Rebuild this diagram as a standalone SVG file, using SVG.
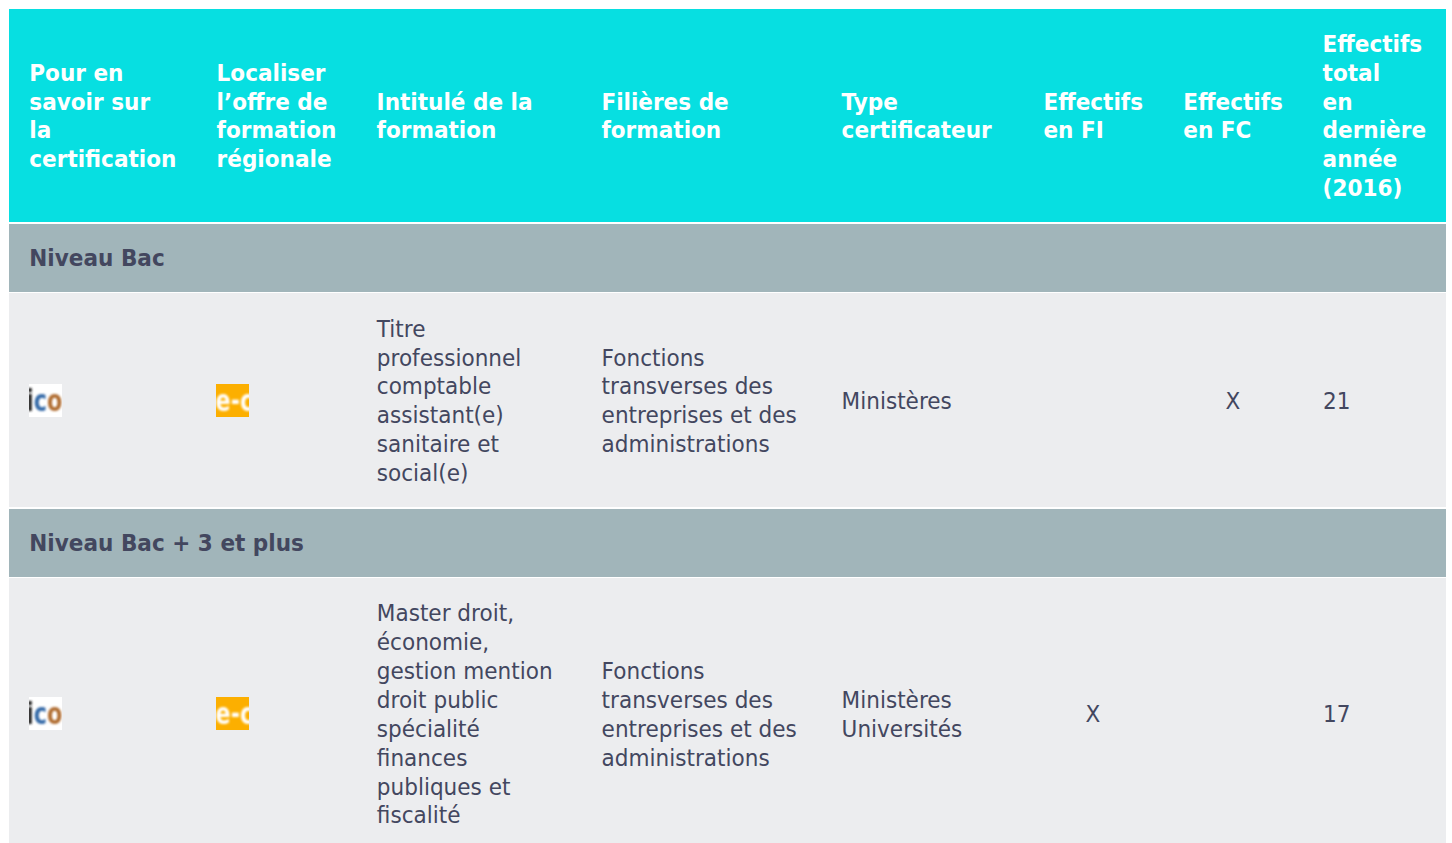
<svg xmlns="http://www.w3.org/2000/svg" width="1452" height="843" viewBox="0 0 1452 843">
<style>
text{font-family:"DejaVu Sans",sans-serif;font-size:23px;fill:#43475f}
.h{font-weight:700;fill:#fff}
.s{font-weight:700}
.ico{font-size:31px;font-weight:700}
</style>
<defs>
<filter id="b" x="-20%" y="-20%" width="140%" height="140%"><feGaussianBlur stdDeviation="1.1"/></filter>
<clipPath id="c1"><rect x="29" y="384" width="33" height="33"/></clipPath>
<clipPath id="c2"><rect x="216" y="384" width="33" height="33"/></clipPath>
<clipPath id="c3"><rect x="29" y="697" width="33" height="33"/></clipPath>
<clipPath id="c4"><rect x="216" y="697" width="33" height="33"/></clipPath>
</defs>
<rect width="1452" height="843" fill="#fff"/>
<g id="header">
<rect x="9" y="9" width="1437" height="213" fill="#07dfe1"/>
<text class="h" transform="translate(29.300 0) scale(.939 1)"><tspan x="0" y="81">Pour en</tspan><tspan x="0" y="110">savoir sur</tspan><tspan x="0" y="138">la</tspan><tspan x="0" y="167">certification</tspan></text>
<text class="h" transform="translate(216.600 0) scale(.939 1)"><tspan x="0" y="81">Localiser</tspan><tspan x="0" y="110">l’offre de</tspan><tspan x="0" y="138">formation</tspan><tspan x="0" y="167">régionale</tspan></text>
<text class="h" transform="translate(376.600 0) scale(.939 1)"><tspan x="0" y="110">Intitulé de la</tspan><tspan x="0" y="138">formation</tspan></text>
<text class="h" transform="translate(601.400 0) scale(.939 1)"><tspan x="0" y="110">Filières de</tspan><tspan x="0" y="138">formation</tspan></text>
<text class="h" transform="translate(841.600 0) scale(.939 1)"><tspan x="0" y="110">Type</tspan><tspan x="0" y="138">certificateur</tspan></text>
<text class="h" transform="translate(1043.400 0) scale(.939 1)"><tspan x="0" y="110">Effectifs</tspan><tspan x="0" y="138">en FI</tspan></text>
<text class="h" transform="translate(1183.300 0) scale(.939 1)"><tspan x="0" y="110">Effectifs</tspan><tspan x="0" y="138">en FC</tspan></text>
<text class="h" transform="translate(1322.600 0) scale(.939 1)"><tspan x="0" y="52">Effectifs</tspan><tspan x="0" y="81">total</tspan><tspan x="0" y="110">en</tspan><tspan x="0" y="138">dernière</tspan><tspan x="0" y="167">année</tspan><tspan x="0" y="196">(2016)</tspan></text>
</g>
<g id="section-bac">
<rect x="9" y="224" width="1437" height="68" fill="#a1b5ba"/>
<text class="s" transform="translate(29.300 0) scale(.939 1)" y="266">Niveau Bac</text>
</g>
<g id="row-bac">
<rect x="9" y="293" width="1437" height="214" fill="#ecedef"/>
<g clip-path="url(#c1)"><rect x="29" y="384" width="33" height="33" fill="#fff"/><g filter="url(#b)"><text class="ico" transform="translate(26 410.500) scale(.72 1)"><tspan fill="#222">i</tspan><tspan fill="#356aa8">c</tspan><tspan fill="#b06d30">o</tspan></text></g></g>
<g clip-path="url(#c2)"><rect x="216" y="384" width="33" height="33" fill="#fcaf00"/><g filter="url(#b)"><text class="ico" transform="translate(215.500 410.500) scale(.72 1)" style="fill:#fff">e-c</text></g></g>
<text transform="translate(376.800 0) scale(.939 1)"><tspan x="0" y="337">Titre</tspan><tspan x="0" y="366">professionnel</tspan><tspan x="0" y="394">comptable</tspan><tspan x="0" y="423">assistant(e)</tspan><tspan x="0" y="452">sanitaire et</tspan><tspan x="0" y="481">social(e)</tspan></text>
<text transform="translate(601.600 0) scale(.939 1)"><tspan x="0" y="366">Fonctions</tspan><tspan x="0" y="394">transverses des</tspan><tspan x="0" y="423">entreprises et des</tspan><tspan x="0" y="452">administrations</tspan></text>
<text transform="translate(841.600 0) scale(.939 1)" y="409">Ministères</text>
<text transform="translate(1233 0) scale(.939 1)" y="409" text-anchor="middle">X</text>
<text transform="translate(1323 0) scale(.939 1)" y="409">21</text>
</g>
<g id="section-bac3">
<rect x="9" y="509" width="1437" height="68" fill="#a1b5ba"/>
<text class="s" transform="translate(29.300 0) scale(.939 1)" y="551">Niveau Bac + 3 et plus</text>
</g>
<g id="row-bac3">
<rect x="9" y="578" width="1437" height="265" fill="#ecedef"/>
<g clip-path="url(#c3)"><rect x="29" y="697" width="33" height="33" fill="#fff"/><g filter="url(#b)"><text class="ico" transform="translate(26 723.500) scale(.72 1)"><tspan fill="#222">i</tspan><tspan fill="#356aa8">c</tspan><tspan fill="#b06d30">o</tspan></text></g></g>
<g clip-path="url(#c4)"><rect x="216" y="697" width="33" height="33" fill="#fcaf00"/><g filter="url(#b)"><text class="ico" transform="translate(215.500 723.500) scale(.72 1)" style="fill:#fff">e-c</text></g></g>
<text transform="translate(376.800 0) scale(.939 1)"><tspan x="0" y="621">Master droit,</tspan><tspan x="0" y="650">économie,</tspan><tspan x="0" y="679">gestion mention</tspan><tspan x="0" y="708">droit public</tspan><tspan x="0" y="737">spécialité</tspan><tspan x="0" y="766">finances</tspan><tspan x="0" y="795">publiques et</tspan><tspan x="0" y="823">fiscalité</tspan></text>
<text transform="translate(601.600 0) scale(.939 1)"><tspan x="0" y="679">Fonctions</tspan><tspan x="0" y="708">transverses des</tspan><tspan x="0" y="737">entreprises et des</tspan><tspan x="0" y="766">administrations</tspan></text>
<text transform="translate(841.600 0) scale(.939 1)"><tspan x="0" y="708">Ministères</tspan><tspan x="0" y="737">Universités</tspan></text>
<text transform="translate(1093 0) scale(.939 1)" y="722" text-anchor="middle">X</text>
<text transform="translate(1323 0) scale(.939 1)" y="722">17</text>
</g>
</svg>
